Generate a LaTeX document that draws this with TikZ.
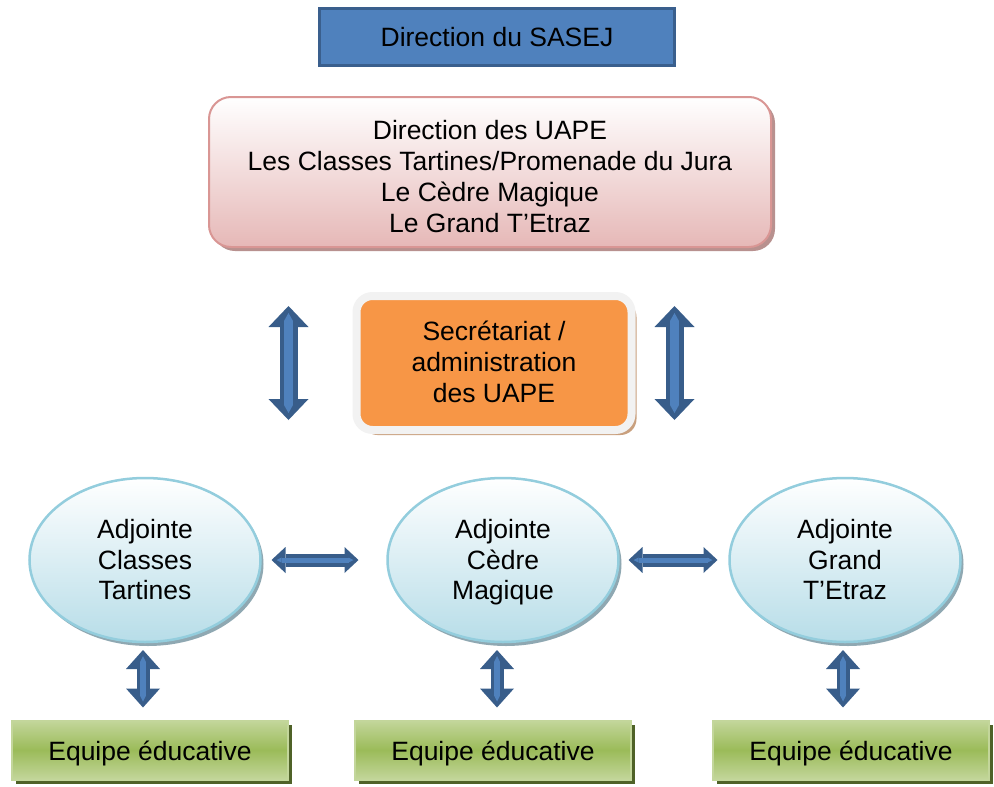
\documentclass[tikz,border=0pt]{standalone}
\usepackage{fontspec}
\setmainfont{Liberation Sans}
\usetikzlibrary{arrows.meta,shadows,shapes.geometric}

\definecolor{sasejblue}{HTML}{4F81BD}
\definecolor{sasejedge}{HTML}{3A5F8D}
\definecolor{uapepink}{HTML}{E6B8B7}
\definecolor{uapeedge}{HTML}{D99694}
\definecolor{uapeshade}{HTML}{B8918F}
\definecolor{secorange}{HTML}{F79646}
\definecolor{secframe}{HTML}{F2F2F2}
\definecolor{secshade}{HTML}{C9A07E}
\definecolor{adjblue}{HTML}{B7DDE8}
\definecolor{adjedge}{HTML}{93CDDD}
\definecolor{adjshade}{HTML}{8FA8B2}
\definecolor{eqlight}{HTML}{C3D69B}
\definecolor{eqgreen}{HTML}{9BBB59}
\definecolor{eqshade}{HTML}{4F6228}
\definecolor{arrowdark}{HTML}{385D8A}
\definecolor{arrowlight}{HTML}{4F81BD}

\begin{document}
\begin{tikzpicture}[
      x=1pt, y=-1pt,
      txt/.style={font=\fontsize{26.5}{30.7}\selectfont, align=center, inner sep=0pt, outer sep=0pt},
      sasejbox/.style={txt, draw=sasejedge, line width=3pt, fill=sasejblue,
        text height=19pt, text depth=0pt, minimum width=355pt, minimum height=57pt},
      uapebox/.style={txt, draw=uapeedge, line width=2pt, rounded corners=22pt,
        top color=white, bottom color=uapepink, minimum width=562pt, minimum height=150pt,
        text height=120pt, text depth=0pt,
        drop shadow={shadow xshift=4pt, shadow yshift=-4pt, fill=uapeshade, opacity=1}},
      secbox/.style={txt, draw=secframe, line width=8pt, fill=secorange, rounded corners=16pt,
        minimum width=275pt, minimum height=134pt, text height=80pt, text depth=2pt,
        drop shadow={shadow xshift=5pt, shadow yshift=-5pt, fill=secshade, opacity=1}},
      adjellipse/.style={txt, ellipse, draw=adjedge, line width=2.5pt,
        top color=white, bottom color=adjblue, minimum width=231pt, minimum height=164pt,
        text height=80pt, text depth=0.6pt,
        drop shadow={shadow xshift=3pt, shadow yshift=-4pt, fill=adjshade, opacity=1}},
      eqbox/.style={txt, draw=eqlight, line width=2pt,
        top color=eqlight, bottom color=eqlight, middle color=eqgreen,
        minimum width=276pt, minimum height=59pt, text height=20pt, text depth=0pt,
        drop shadow={shadow xshift=4pt, shadow yshift=-4pt, fill=eqshade, opacity=1}},
      biglink/.style={draw=arrowdark, line width=18pt,
        {Triangle[width=40pt,length=21pt,line width=0pt]}-{Triangle[width=40pt,length=21pt,line width=0pt]},
        postaction={draw=arrowlight, line width=9pt, shorten <=7pt, shorten >=7pt,
          {Triangle[width=9pt,length=8pt,line width=0pt]}-{Triangle[width=9pt,length=8pt,line width=0pt]}}},
      hlink/.style={draw=arrowdark, line width=13pt,
        {Triangle[width=26pt,length=14pt,line width=0pt]}-{Triangle[width=26pt,length=14pt,line width=0pt]},
        postaction={draw=arrowlight, line width=5pt, shorten <=5pt, shorten >=5pt,
          {Triangle[width=5pt,length=5pt,line width=0pt]}-{Triangle[width=5pt,length=5pt,line width=0pt]}}},
      vlink/.style={draw=arrowdark, line width=13pt,
        {Triangle[width=34pt,length=19pt,line width=0pt]}-{Triangle[width=34pt,length=19pt,line width=0pt]},
        postaction={draw=arrowlight, line width=6pt, shorten <=6pt, shorten >=6pt,
          {Triangle[width=6pt,length=6pt,line width=0pt]}-{Triangle[width=6pt,length=6pt,line width=0pt]}}},
      ]
      \useasboundingbox (0,0) rectangle (994,787);
      \def\colA{145}
      \def\colB{503}
      \def\colC{845}

      % top of the chart
      \node[sasejbox] (sasej) at (497,37) {Direction du SASEJ};
      \node[uapebox] (uape) at (490,172) {Direction des UAPE\\Les Classes Tartines/Promenade du Jura\\Le C\`edre Magique\\Le Grand T'Etraz};
      \node[secbox] (sec) at (494,363) {Secr\'etariat /\\administration\\des UAPE};

      % adjointes
      \node[adjellipse] (adjct) at (\colA,560) {Adjointe\\Classes\\Tartines};
      \node[adjellipse] (adjcm) at (\colB,560) {Adjointe\\C\`edre\\Magique};
      \node[adjellipse] (adjgt) at (\colC,560) {Adjointe\\Grand\\T'Etraz};

      % equipes
      \node[eqbox] (eqct) at (150,750) {Equipe \'educative};
      \node[eqbox] (eqcm) at (493,750) {Equipe \'educative};
      \node[eqbox] (eqgt) at (851,750) {Equipe \'educative};

      % links
      \draw[biglink] ([shift={(-68pt,-59pt)}]sec.west |- uape.south) -- ([shift={(-68pt,58pt)}]sec.west |- adjct.north);
      \draw[biglink] ([shift={(43pt,-59pt)}]sec.east |- uape.south) -- ([shift={(43pt,58pt)}]sec.east |- adjgt.north);
      \draw[hlink] ([xshift=11pt]adjct.east) -- ([xshift=-29pt]adjcm.west);
      \draw[hlink] ([xshift=10pt]adjcm.east) -- ([xshift=-12pt]adjgt.west);
      \draw[vlink] ([shift={(-2pt,-8pt)}]adjct.south) -- ([shift={(-2pt,13pt)}]adjct.south |- eqct.north);
      \draw[vlink] ([shift={(-6pt,-8pt)}]adjcm.south) -- ([shift={(-6pt,13pt)}]adjcm.south |- eqcm.north);
      \draw[vlink] ([shift={(-2pt,-8pt)}]adjgt.south) -- ([shift={(-2pt,13pt)}]adjgt.south |- eqgt.north);
    \end{tikzpicture}
\end{document}
